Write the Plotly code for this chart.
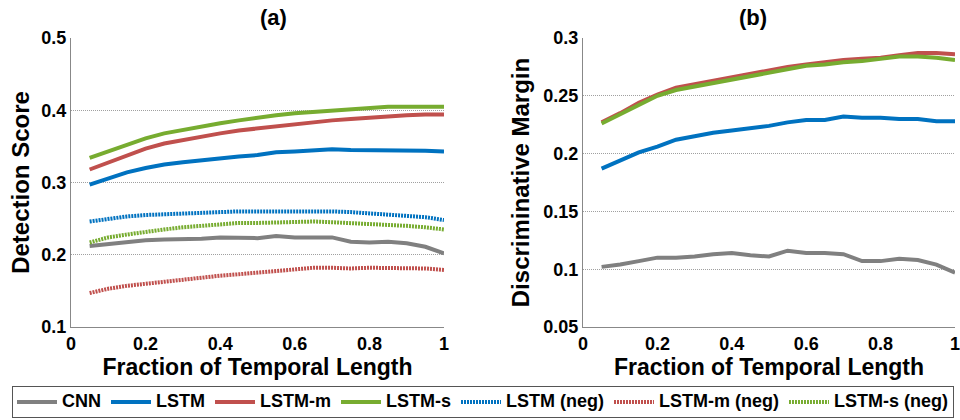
import plotly.graph_objects as go

x = [0.05, 0.10, 0.15, 0.20, 0.25, 0.30, 0.35, 0.40, 0.45, 0.50,
     0.55, 0.60, 0.65, 0.70, 0.75, 0.80, 0.85, 0.90, 0.95, 1.00]

# Panel (a): Detection Score
a_cnn = [0.212, 0.215, 0.218, 0.220, 0.221, 0.221, 0.222, 0.224, 0.223, 0.223,
         0.226, 0.224, 0.224, 0.224, 0.218, 0.217, 0.218, 0.216, 0.211, 0.202]
a_lstm = [0.297, 0.306, 0.314, 0.320, 0.325, 0.328, 0.331, 0.334, 0.336, 0.338,
          0.342, 0.343, 0.344, 0.346, 0.345, 0.345, 0.345, 0.345, 0.344, 0.343]
a_lstm_m = [0.318, 0.328, 0.338, 0.347, 0.354, 0.359, 0.364, 0.368, 0.372, 0.375,
            0.378, 0.381, 0.383, 0.386, 0.388, 0.390, 0.391, 0.393, 0.394, 0.394]
a_lstm_s = [0.334, 0.343, 0.352, 0.361, 0.368, 0.373, 0.377, 0.382, 0.386, 0.390,
            0.393, 0.396, 0.398, 0.400, 0.402, 0.404, 0.405, 0.405, 0.405, 0.405]
a_lstm_neg = [0.246, 0.250, 0.253, 0.255, 0.256, 0.258, 0.259, 0.260, 0.260, 0.260,
              0.260, 0.261, 0.261, 0.260, 0.259, 0.257, 0.256, 0.254, 0.252, 0.248]
a_lstm_m_neg = [0.147, 0.153, 0.157, 0.160, 0.163, 0.166, 0.169, 0.171, 0.173, 0.175,
                0.177, 0.179, 0.182, 0.182, 0.181, 0.182, 0.182, 0.181, 0.181, 0.179]
a_lstm_s_neg = [0.217, 0.224, 0.228, 0.232, 0.235, 0.238, 0.240, 0.242, 0.244, 0.244,
                0.245, 0.245, 0.246, 0.245, 0.244, 0.243, 0.242, 0.240, 0.238, 0.235]

# Panel (b): Discriminative Margin
b_cnn = [0.102, 0.104, 0.107, 0.110, 0.110, 0.111, 0.113, 0.114, 0.112, 0.111,
         0.116, 0.114, 0.114, 0.113, 0.107, 0.107, 0.109, 0.108, 0.104, 0.097]
b_lstm = [0.187, 0.194, 0.201, 0.206, 0.212, 0.215, 0.218, 0.220, 0.222, 0.224,
          0.227, 0.229, 0.229, 0.232, 0.231, 0.231, 0.230, 0.230, 0.228, 0.228]
b_lstm_m = [0.227, 0.235, 0.244, 0.251, 0.257, 0.260, 0.263, 0.266, 0.269, 0.272,
            0.275, 0.277, 0.279, 0.281, 0.282, 0.283, 0.285, 0.287, 0.287, 0.286]
b_lstm_s = [0.226, 0.234, 0.242, 0.250, 0.255, 0.258, 0.261, 0.264, 0.267, 0.270,
            0.273, 0.276, 0.277, 0.279, 0.280, 0.282, 0.284, 0.284, 0.283, 0.281]

x_ticks = [0, 0.2, 0.4, 0.6, 0.8, 1]
x_tick_text = ["0", "0.2", "0.4", "0.6", "0.8", "1"]
a_yticks = [0.1, 0.2, 0.3, 0.4, 0.5]
a_ytext = ["0.1", "0.2", "0.3", "0.4", "0.5"]
b_yticks = [0.05, 0.1, 0.15, 0.2, 0.25, 0.3]
b_ytext = ["0.05", "0.1", "0.15", "0.2", "0.25", "0.3"]

GRAY = "#808080"
BLUE = "#0072C0"
RED = "#C0504D"
GREEN = "#77AC30"
FONT = "Liberation Sans"

fig = go.Figure()

def add(xs, ys, name, color, dash, xa, ya, show):
    fig.add_trace(go.Scatter(
        x=xs, y=ys, name="<b><span style='font-size:18px'>%s</span></b>" % name,
        mode="lines", xaxis=xa, yaxis=ya,
        line=dict(color=color, width=4, dash=dash), showlegend=show,
        legendgroup=name))

solid = "solid"
dotted = "2px,1px"
add(x, a_cnn, "CNN", GRAY, solid, "x", "y", True)
add(x, a_lstm, "LSTM", BLUE, solid, "x", "y", True)
add(x, a_lstm_m, "LSTM-m", RED, solid, "x", "y", True)
add(x, a_lstm_s, "LSTM-s", GREEN, solid, "x", "y", True)
add(x, a_lstm_neg, "LSTM (neg)", BLUE, dotted, "x", "y", True)
add(x, a_lstm_m_neg, "LSTM-m (neg)", RED, dotted, "x", "y", True)
add(x, a_lstm_s_neg, "LSTM-s (neg)", GREEN, dotted, "x", "y", True)

add(x, b_cnn, "CNN", GRAY, solid, "x2", "y2", False)
add(x, b_lstm, "LSTM", BLUE, solid, "x2", "y2", False)
add(x, b_lstm_m, "LSTM-m", RED, solid, "x2", "y2", False)
add(x, b_lstm_s, "LSTM-s", GREEN, solid, "x2", "y2", False)

TOP, BOT = 38, 327
PH = BOT - TOP
tickfont = dict(family=FONT, size=18, color="black")
titlefont = dict(family=FONT, size=23, color="black")

xcommon = dict(range=[0, 1], tickvals=x_ticks,
               ticktext=["<b>%s</b>" % t for t in x_tick_text],
               showline=True, linecolor="#888888", linewidth=1,
               showgrid=False, zeroline=False, tickfont=tickfont,
               ticks="", ticklen=0, automargin=False, ticklabeloverflow="allow",
               title=dict(text="<b>Fraction of Temporal Length</b>", font=titlefont, standoff=6))
ycommon = dict(showline=True, linecolor="#888888", linewidth=1,
               showgrid=True, gridcolor="#a0a0a0", griddash="1px,1px", gridwidth=1,
               zeroline=False, tickfont=tickfont, ticks="", automargin=False)

fig.update_layout(
    width=960, height=420,
    margin=dict(l=0, r=0, t=TOP, b=420 - BOT),
    paper_bgcolor="white", plot_bgcolor="white",
    font=dict(family=FONT, color="black"),
    xaxis=dict(domain=[71 / 960, 444 / 960], anchor="y", **xcommon),
    yaxis=dict(domain=[0, 1], anchor="x", range=[0.1, 0.5], tickvals=a_yticks,
               ticktext=["<b>%s</b>" % t for t in a_ytext],
               title=dict(text="<b>Detection Score</b>", font=dict(family=FONT, size=24, color="black"),
                          standoff=4),
               **ycommon),
    xaxis2=dict(domain=[583 / 960, 955 / 960], anchor="y2", **xcommon),
    yaxis2=dict(domain=[0, 1], anchor="x2", range=[0.05, 0.3], tickvals=b_yticks,
                ticktext=["<b>%s</b>" % t for t in b_ytext],
                title=dict(text="<b>Discriminative Margin</b>", font=dict(family=FONT, size=24, color="black"),
                           standoff=6),
                **ycommon),
    legend=dict(orientation="h", x=12 / 960, xanchor="left", y=-(418 - BOT) / PH, yanchor="bottom",
                bordercolor="#555555", borderwidth=1, bgcolor="rgba(255,255,255,0)",
                font=dict(family=FONT, size=13, color="black"),
                itemwidth=40, tracegroupgap=0),
    annotations=[
        dict(text="<b>(a)</b>", x=(71 + 444) / 2 / 960, y=1 + (TOP - 17) / PH, xref="paper", yref="paper",
             yanchor="middle", showarrow=False, font=dict(family=FONT, size=22, color="black")),
        dict(text="<b>(b)</b>", x=(583 + 955) / 2 / 960, y=1 + (TOP - 17) / PH, xref="paper", yref="paper",
             yanchor="middle", showarrow=False, font=dict(family=FONT, size=22, color="black")),
    ],
)

fig.write_html("out.html")
